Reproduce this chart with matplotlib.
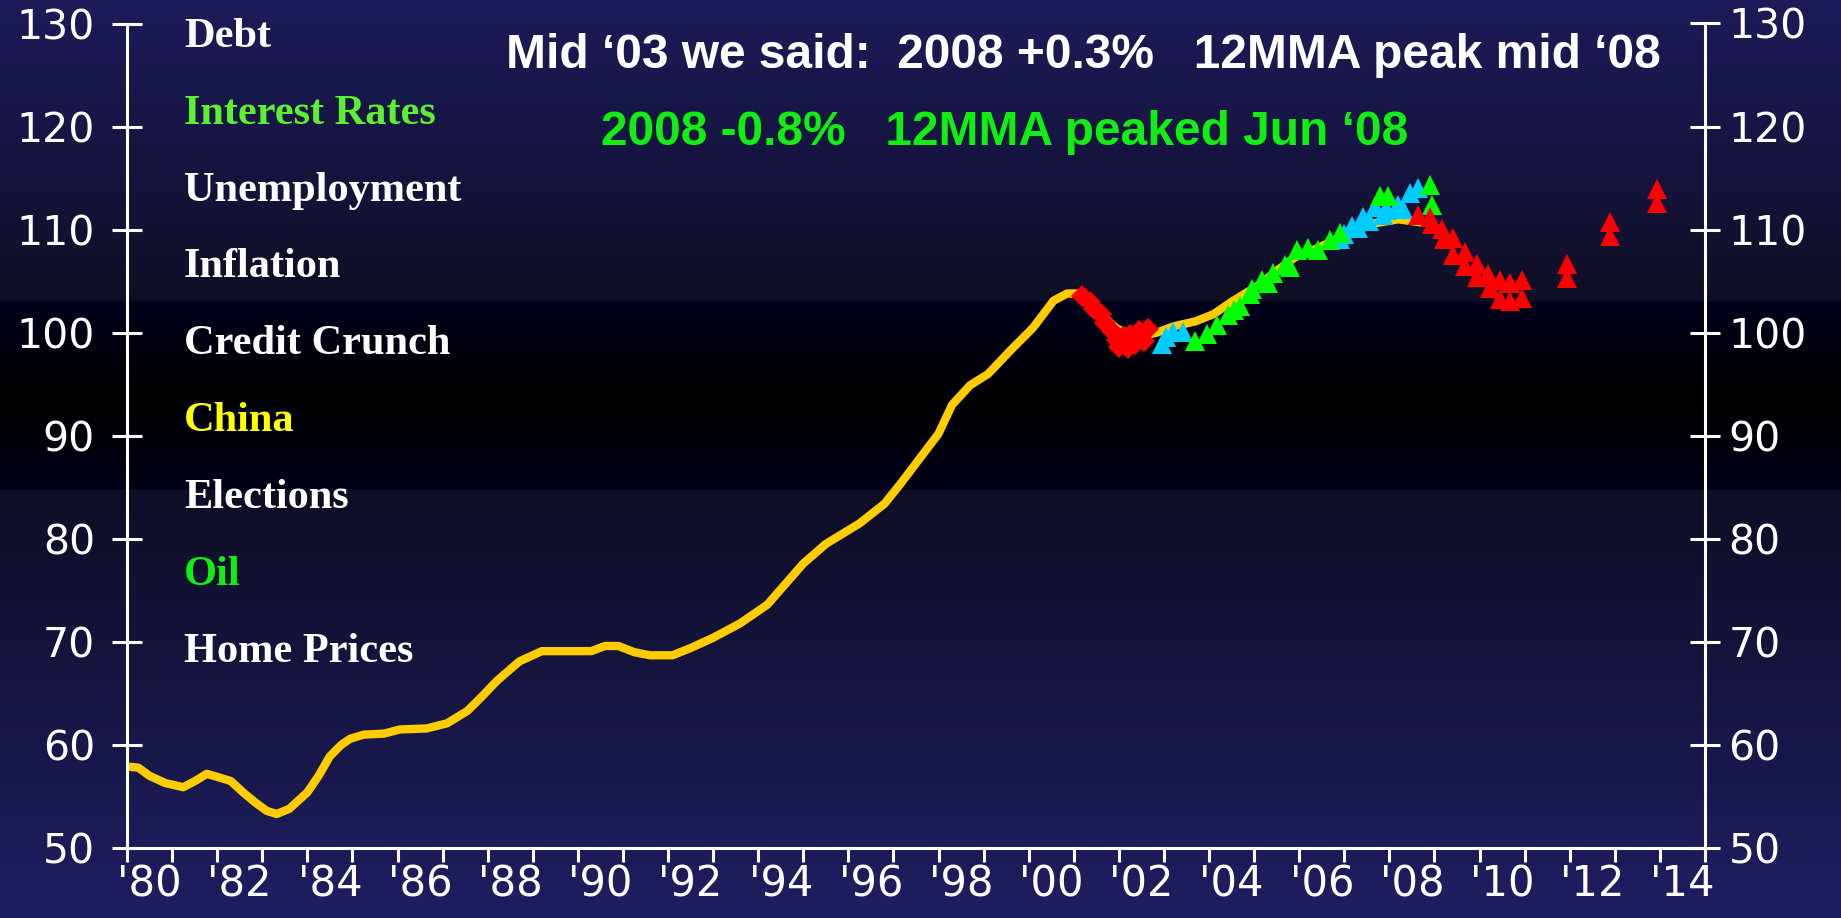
import numpy as np
import matplotlib
matplotlib.use('Agg')
import matplotlib.pyplot as plt

# index line (yellow)
line_years = [1980.0, 1980.25, 1980.5, 1980.85, 1981.25, 1981.55, 1981.77, 1982.0, 1982.3, 1982.6,
              1982.85, 1983.1, 1983.32, 1983.6, 1984.0, 1984.25, 1984.5, 1984.75, 1984.95, 1985.25,
              1985.7, 1986.05, 1986.65, 1987.1, 1987.55, 1987.85, 1988.2, 1988.7, 1989.2, 1990.3,
              1990.6, 1990.9, 1991.25, 1991.6, 1992.1, 1992.5, 1993.0, 1993.6, 1994.2, 1994.64,
              1995.0, 1995.5, 1996.25, 1996.8, 1997.15, 1997.6, 1998.0, 1998.3, 1998.7, 1999.1,
              1999.6, 2000.1, 2000.55, 2000.85, 2001.15, 2001.55, 2001.95, 2002.4, 2002.84, 2003.2,
              2003.7, 2004.1, 2004.5, 2005.1, 2005.5, 2005.9, 2006.3, 2006.8, 2007.2, 2007.65,
              2008.2, 2008.7]
line_values = [57.9, 57.8, 57.0, 56.3, 55.9, 56.6, 57.2, 56.9, 56.5, 55.3,
               54.4, 53.6, 53.3, 53.8, 55.4, 57.0, 58.9, 60.0, 60.6, 61.0,
               61.1, 61.5, 61.6, 62.1, 63.3, 64.6, 66.2, 68.1, 69.1, 69.1,
               69.6, 69.6, 69.0, 68.7, 68.7, 69.4, 70.4, 71.8, 73.6, 75.8,
               77.6, 79.5, 81.5, 83.4, 85.3, 87.9, 90.2, 93.0, 94.9, 96.0,
               98.3, 100.5, 103.1, 103.8, 103.8, 102.0, 100.4, 99.6, 100.0, 100.6,
               101.1, 101.8, 103.0, 104.6, 106.0, 107.3, 108.0, 109.0, 109.8, 110.6,
               111.0, 110.7]

# red diamonds
diamond_x = [2001.18, 2001.35, 2001.45, 2001.6, 2001.7, 2001.85, 2001.95, 2002.0, 2002.1, 2002.2,
             2002.25, 2002.35, 2002.45, 2002.55, 2002.65]
diamond_y = [103.6, 103.0, 102.3, 101.8, 100.9, 100.2, 99.3, 98.6, 99.6, 98.5,
             99.8, 98.9, 100.2, 99.2, 100.4]

# cyan triangles
cyan_x = [2002.95, 2003.05, 2003.2, 2003.42, 2006.9, 2007.0, 2007.17, 2007.3, 2007.42, 2007.55,
          2007.68, 2007.86, 2007.94, 2008.19, 2008.3, 2008.45, 2008.63]
cyan_y = [98.9, 99.6, 100.1, 100.1, 109.1, 109.6, 110.4, 110.2, 111.2, 110.8,
          112.2, 111.4, 111.9, 112.4, 112.0, 113.6, 114.0]

# green triangles
green_x = [2003.69, 2003.95, 2004.17, 2004.42, 2004.55, 2004.68, 2004.9, 2004.95, 2005.17, 2005.3,
           2005.42, 2005.68, 2005.8, 2005.94, 2006.2, 2006.42, 2006.68, 2006.9, 2007.79, 2007.97,
           2008.9, 2008.94]
green_y = [99.2, 99.9, 100.7, 101.7, 102.2, 102.6, 103.8, 104.2, 105.1, 104.8,
           105.8, 106.6, 106.4, 108.0, 108.2, 108.0, 109.0, 109.7, 113.3, 113.3,
           114.3, 112.4]

# red triangles
red_x = [2008.63, 2008.9, 2008.95, 2009.16, 2009.2, 2009.4, 2009.4, 2009.67, 2009.67, 2009.94,
         2009.94, 2010.18, 2010.23, 2010.45, 2010.45, 2010.67, 2010.67, 2010.94, 2010.94,
         2011.94, 2011.94, 2012.9, 2012.9, 2013.93, 2013.93]
red_y = [111.4, 111.2, 110.5, 110.1, 109.1, 109.2, 107.5, 107.8, 106.5, 106.7,
         105.4, 105.7, 104.3, 105.1, 103.3, 104.8, 103.1, 105.1, 103.4,
         106.7, 105.3, 110.7, 109.4, 113.9, 112.6]

topics = ['Debt', 'Interest Rates', 'Unemployment', 'Inflation', 'Credit Crunch',
          'China', 'Elections', 'Oil', 'Home Prices']
topic_colors = ['white', '#5CF032', 'white', 'white', 'white',
                '#FFFF00', 'white', '#11EE11', 'white']

year_labels = ["'80", "'82", "'84", "'86", "'88", "'90", "'92", "'94", "'96",
               "'98", "'00", "'02", "'04", "'06", "'08", "'10", "'12", "'14"]

W, H = 1841, 918
fig = plt.figure(figsize=(W / 100, H / 100), dpi=100)

# background gradient
stops_y = [0, 150, 300, 302, 395, 488, 490, 918]
stops_c = [(29, 27, 88), (22, 21, 66), (15, 15, 36), (0, 0, 30), (0, 0, 0),
           (0, 0, 24), (14, 14, 38), (31, 30, 98)]
rows = np.arange(H)
grad = np.zeros((H, 1, 3))
for k in range(3):
    grad[:, 0, k] = np.interp(rows, stops_y, [c[k] for c in stops_c]) / 255
bg = fig.add_axes([0, 0, 1, 1], zorder=0)
bg.imshow(grad, aspect='auto', extent=[0, 1, 0, 1], interpolation='bilinear')
bg.axis('off')

x0, x1, ytop, ybot = 127, 1705, 23.5, 848
ax = fig.add_axes([x0 / W, 1 - ybot / H, (x1 - x0) / W, (ybot - ytop) / H], zorder=1)
ax.set_facecolor('none')

ax.plot(line_years, line_values, color='#FFCC00', lw=6, solid_joinstyle='round',
        solid_capstyle='round', zorder=2)
ax.plot(diamond_x, diamond_y, 'D', color='#FF0000', ms=11, mew=0, zorder=3)
ax.plot(cyan_x, cyan_y, '^', color='#00CCFF', ms=14.5, mew=0, zorder=3)
ax.plot(green_x, green_y, '^', color='#00FF00', ms=14.5, mew=0, zorder=3)
ax.plot(red_x, red_y, '^', color='#FF0000', ms=14.5, mew=0, zorder=4)

ax.set_xlim(1980, 2015)
ax.set_ylim(50, 130)
for s in ['left', 'right', 'bottom']:
    ax.spines[s].set_color('white')
    ax.spines[s].set_linewidth(2.2)
ax.spines['top'].set_visible(False)

ax.set_xticks(np.arange(1980, 2016))
ax.set_xticklabels([])
ax.set_xticks(np.arange(1980.5, 2015, 2), minor=True)
ax.set_xticklabels(year_labels, minor=True)
ax.tick_params(axis='x', which='major', direction='out', length=10, width=2.2, color='white')
ax.tick_params(axis='x', which='minor', length=0, pad=11, labelcolor='white', labelsize=30)

ax.set_yticks(np.arange(50, 131, 10))
ax.tick_params(axis='y', direction='inout', length=22, width=2.2, color='white',
               labelcolor='white', labelsize=29.5, pad=12, left=True, right=False)
ax2 = ax.twinx()
ax2.set_ylim(50, 130)
ax2.set_yticks(np.arange(50, 131, 10))
for s in ax2.spines.values():
    s.set_visible(False)
ax2.tick_params(axis='y', direction='inout', length=22, width=2.2, color='white',
                labelcolor='white', labelsize=29.5, pad=6)

for i, (t, c) in enumerate(zip(topics, topic_colors)):
    fig.text(184 / W, 1 - (46.7 + i * 76.9) / H, t, color=c, fontsize=30.5,
             family='Liberation Serif', weight='bold', va='baseline', ha='left')

fig.text(1083 / W, 1 - 68 / H, 'Mid \u201803 we said:  2008 +0.3%   12MMA peak mid \u201808',
         color='white', fontsize=34.5, family='Liberation Sans', weight='bold',
         ha='center', va='baseline')
fig.text(1005 / W, 1 - 145 / H, '2008 -0.8%   12MMA peaked Jun \u201808',
         color='#11EE11', fontsize=34.5, family='Liberation Sans', weight='bold',
         ha='center', va='baseline')

fig.savefig('out.png', dpi=100)
